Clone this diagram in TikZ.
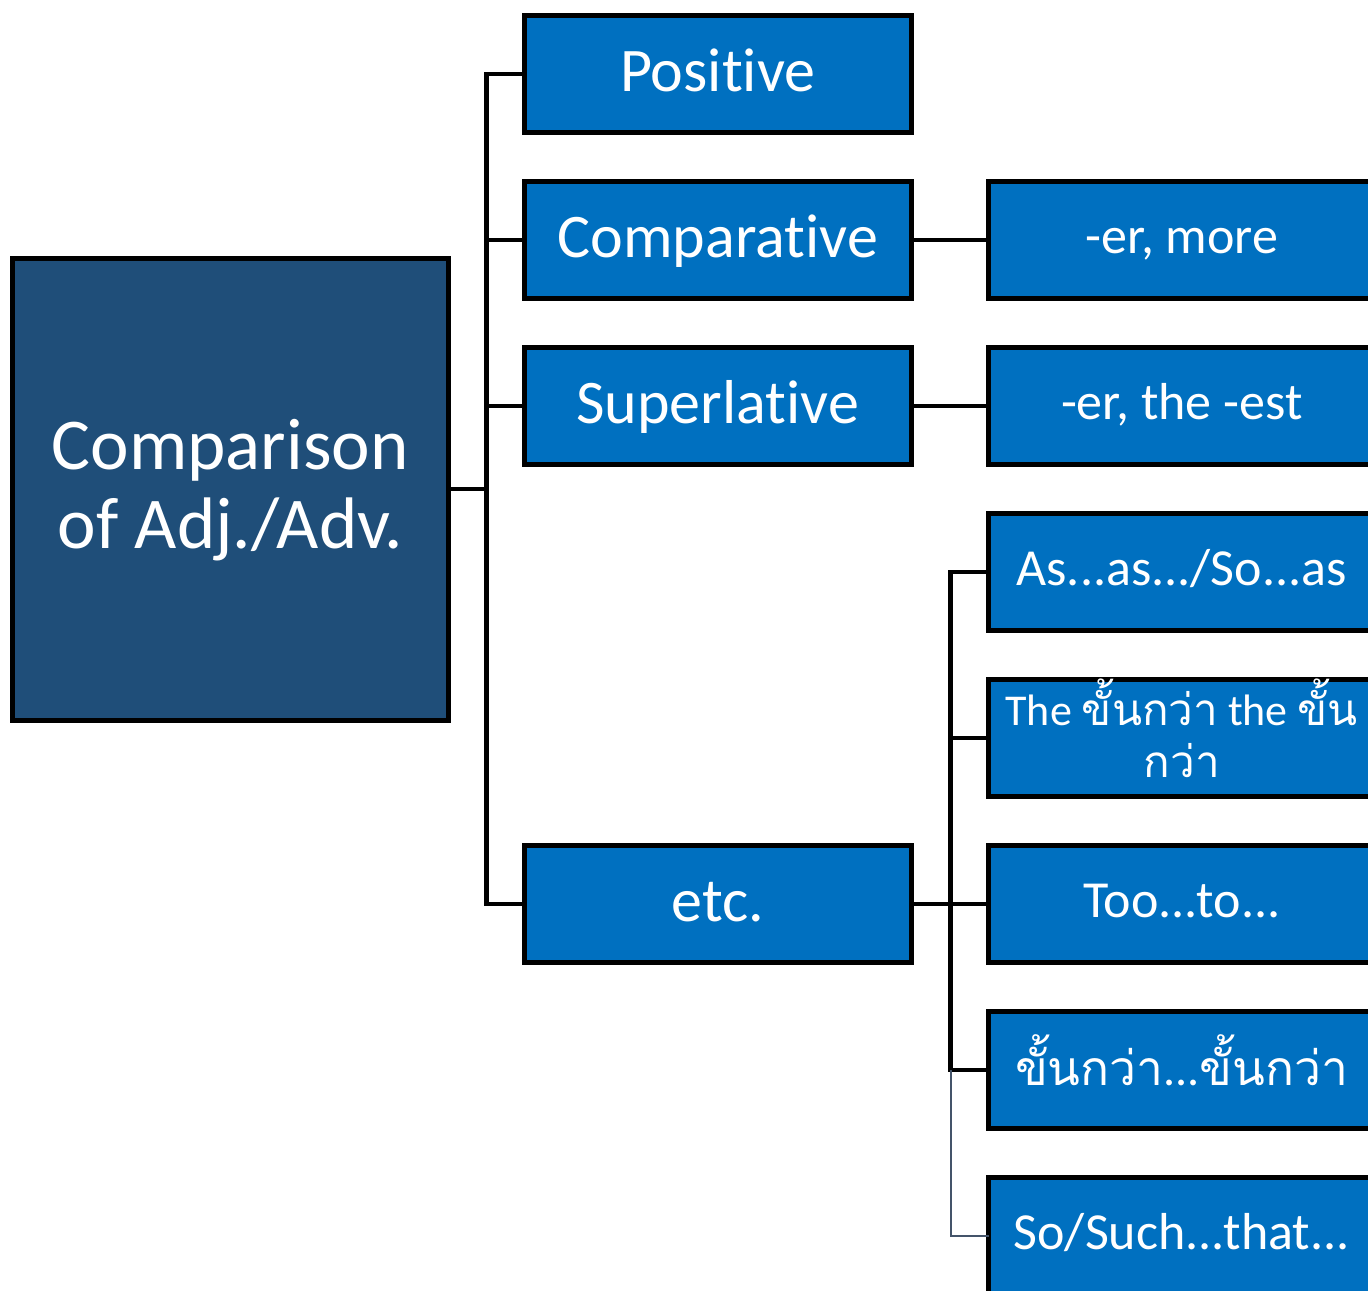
\documentclass[tikz,border=0pt]{standalone}
\usepackage{fontspec}
\setmainfont{Carlito}[Ligatures=NoCommon]
\newfontfamily\thaifont[Script=Thai]{Loma}
\definecolor{mainblue}{HTML}{1F4E79}
\definecolor{boxblue}{HTML}{0070C0}
\definecolor{slate}{HTML}{44546A}
\begin{document}
\begin{tikzpicture}[x=0.5pt,y=-0.5pt,
  box/.style={draw=black, line width=2.5pt, fill=boxblue, text=white, inner sep=0pt, outer sep=0pt,
    minimum width=193.25pt, minimum height=58.5pt, align=center},
  mainbox/.style={box, fill=mainblue, minimum width=217.75pt, minimum height=231pt,
    font=\fontsize{36.5pt}{39.5pt}\selectfont, text height=59.3pt, text depth=0pt},
  lvltwo/.style={font=\fontsize{31pt}{37pt}\selectfont, text height=17pt, text depth=0pt},
  lvlthree/.style={font=\fontsize{26pt}{30pt}\selectfont, text height=13.5pt, text depth=0pt},
  conn/.style={draw=black, line width=2.25pt},
  thinconn/.style={draw=slate, line width=1pt}]
\useasboundingbox (0,0) rectangle (1368,1290);
% main
\node[mainbox] (main) at (230.25,489) {Comparison\\of Adj./Adv.};
% level two
\node[box,lvltwo] (pos)  at (717.75,74)  {Positive};
\node[box,lvltwo] (comp) at (717.75,240) {Comparative};
\node[box,lvltwo] (sup)  at (717.75,406) {Superlative};
\node[box,lvltwo] (etc)  at (717.75,904) {etc.};
% level three
\node[box,lvlthree] (er)   at (1181.75,240)  {-er, more};
\node[box,lvlthree] (est)  at (1181.75,406)  {-er, the -est};
\node[box,lvlthree] (asas) at (1181.75,572)  {As...as.../So...as};
\node[box,font=\fontsize{22pt}{26pt}\selectfont, text height=39pt, text depth=0pt] (the) at (1181.75,738)
  {The {\thaifont ขั้นกว่า} the {\thaifont ขั้น}\\{\thaifont กว่า}};
\node[box,lvlthree] (too)  at (1181.75,904)  {Too...to...};
\node[box,lvlthree, font=\fontsize{24pt}{28pt}\selectfont, text height=15pt] (thai) at (1181.75,1070) {{\thaifont ขั้นกว่า}...{\thaifont ขั้นกว่า}};
\node[box,lvlthree] (so)   at (1181.75,1236) {So/Such...that...};
% connectors level one
\draw[conn] (main.east) -- ++(38.5,0);
\draw[conn] (pos.west) -- ++(-38,0) |- (etc.west);
\draw[conn] (comp.west) -- ++(-38,0);
\draw[conn] (sup.west) -- ++(-38,0);
% connectors level two
\draw[conn] (comp.east) -- (er.west);
\draw[conn] (sup.east) -- (est.west);
\draw[conn] (etc.east) -- (too.west);
\draw[conn] (asas.west) -- ++(-38,0) |- (thai.west);
\draw[conn] (the.west) -- ++(-38,0);
\draw[thinconn] ([xshift=-19pt]thai.west) |- (so.west);
\end{tikzpicture}
\end{document}
